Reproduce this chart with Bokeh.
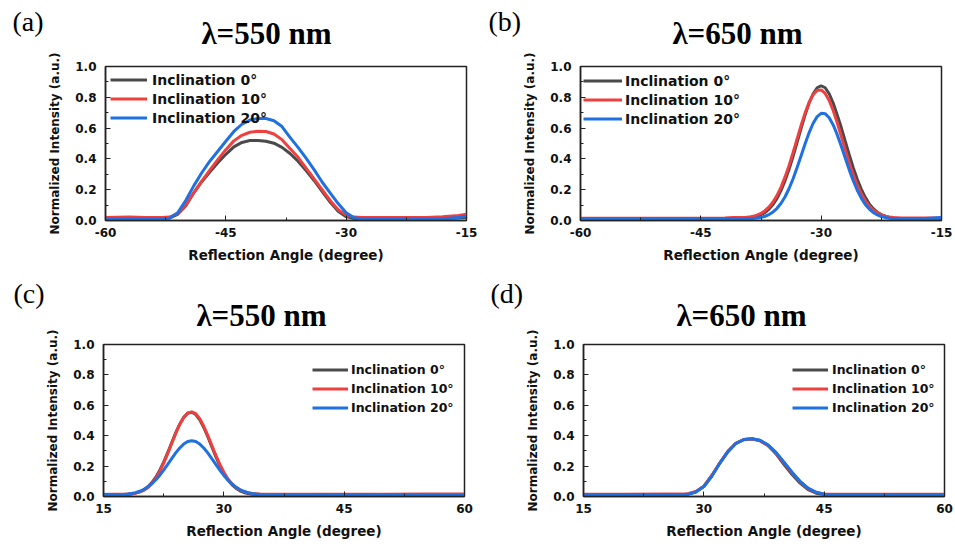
from bokeh.plotting import figure
from bokeh.layouts import column, row
from bokeh.models import (Range1d, FixedTicker, Label, Legend, LegendItem,
                          PrintfTickFormatter, CustomJSTickFormatter)
from bokeh.embed import file_html
from bokeh.resources import INLINE

# ---------------- data ----------------
series_labels = ["Inclination 0°", "Inclination 10°", "Inclination 20°"]

# (a) lambda = 550 nm, negative reflection angles
angle_a = [-60, -57, -55, -53, -52, -51, -50, -49, -48, -47, -46, -45, -44, -43, -42, -41,
           -40, -39, -38, -37, -36, -35, -34, -33, -32, -31, -30, -29, -28, -26, -23, -20,
           -18, -16, -15]
a_incl0 = [0.015, 0.015, 0.015, 0.015, 0.017, 0.04, 0.095, 0.18, 0.252, 0.315, 0.375, 0.43,
           0.478, 0.507, 0.519, 0.52, 0.515, 0.502, 0.475, 0.435, 0.385, 0.325, 0.26, 0.19,
           0.12, 0.06, 0.025, 0.013, 0.012, 0.012, 0.012, 0.012, 0.013, 0.016, 0.02]
a_incl10 = [0.02, 0.022, 0.02, 0.02, 0.022, 0.045, 0.1, 0.18, 0.256, 0.327, 0.395, 0.46,
            0.517, 0.553, 0.573, 0.58, 0.578, 0.562, 0.525, 0.468, 0.41, 0.34, 0.27, 0.2,
            0.13, 0.07, 0.035, 0.022, 0.02, 0.02, 0.02, 0.02, 0.024, 0.032, 0.04]
a_incl20 = [0.01, 0.01, 0.01, 0.01, 0.015, 0.05, 0.13, 0.225, 0.31, 0.385, 0.45, 0.515,
            0.578, 0.625, 0.652, 0.662, 0.662, 0.648, 0.61, 0.54, 0.475, 0.405, 0.33, 0.25,
            0.18, 0.11, 0.05, 0.018, 0.01, 0.01, 0.01, 0.01, 0.012, 0.02, 0.03]

# (b) lambda = 650 nm, negative reflection angles
angle_b = [-60, -50, -45, -42, -41,
           -40, -39.5, -39, -38.5, -38, -37.5, -37, -36.5, -36, -35.5, -35, -34.5, -34,
           -33.5, -33, -32.5, -32, -31.5, -31, -30.5, -30, -29.5, -29, -28.5, -28, -27.5,
           -27, -26.5, -26, -25.5, -25, -24.5, -24, -23.5, -23, -22.5, -22, -21.5, -21,
           -20.5, -20, -19, -17, -15]
b_incl0 = [0.01, 0.01, 0.01, 0.01, 0.011,
           0.012, 0.013, 0.016, 0.02, 0.027, 0.037, 0.052, 0.074, 0.104, 0.144, 0.196, 0.259,
           0.333, 0.417, 0.507, 0.599, 0.686, 0.763, 0.823, 0.862, 0.875, 0.862, 0.823, 0.763,
           0.686, 0.605, 0.515, 0.427, 0.343, 0.268, 0.204, 0.15, 0.108, 0.077, 0.054, 0.038,
           0.028, 0.02, 0.016, 0.013, 0.012, 0.01, 0.01, 0.012]
b_incl10 = [0.015, 0.015, 0.015, 0.017, 0.02,
            0.019, 0.02, 0.022, 0.027, 0.035, 0.046, 0.064, 0.088, 0.12, 0.163, 0.217, 0.283,
            0.358, 0.442, 0.53, 0.618, 0.699, 0.768, 0.818, 0.845, 0.848, 0.825, 0.779, 0.714,
            0.635, 0.548, 0.46, 0.374, 0.297, 0.229, 0.173, 0.128, 0.093, 0.068, 0.049, 0.037,
            0.028, 0.023, 0.02, 0.018, 0.016, 0.017, 0.016, 0.016]
b_incl20 = [0.011, 0.011, 0.011, 0.011, 0.011,
            0.0104, 0.011, 0.0117, 0.0133, 0.0159, 0.0204, 0.0276, 0.0388, 0.0555, 0.0793,
            0.1118, 0.1544, 0.2078, 0.2714, 0.3437, 0.421, 0.4987, 0.5709, 0.6314, 0.6746,
            0.696, 0.6937, 0.6676, 0.6205, 0.5572, 0.4834, 0.4053, 0.3287, 0.258, 0.1962,
            0.1451, 0.1045, 0.0738, 0.0516, 0.0362, 0.0259, 0.0194, 0.0153, 0.0129, 0.0115,
            0.0108, 0.011, 0.013, 0.02]

# (c) lambda = 550 nm, positive reflection angles
angle_c = [15, 16,
           17, 17.5, 18, 18.5, 19, 19.5, 20, 20.5, 21, 21.5, 22, 22.5, 23, 23.5, 24, 24.5,
           25, 25.5, 26, 26.5, 27, 27.5, 28, 28.5, 29, 29.5, 30, 30.5, 31, 31.5, 32, 32.5,
           33, 33.5, 34, 34.5, 35,
           37, 40, 45, 50, 55, 60]
c_incl0 = [0.01, 0.01,
           0.011, 0.012, 0.0137, 0.0168, 0.0221, 0.0306, 0.0436, 0.0629, 0.0898, 0.1258,
           0.1714, 0.2261, 0.2881, 0.3537, 0.4182, 0.476, 0.5208, 0.5481, 0.5546, 0.5395,
           0.5047, 0.4541, 0.393, 0.3273, 0.2627, 0.2033, 0.152, 0.1103, 0.078, 0.0543,
           0.0378, 0.0267, 0.0197, 0.0154, 0.0129, 0.0115, 0.0107,
           0.01, 0.01, 0.01, 0.01, 0.01, 0.01]
c_incl10 = [0.012, 0.014,
            0.015, 0.015, 0.016, 0.018, 0.022, 0.029, 0.04, 0.057, 0.083, 0.118, 0.163,
            0.219, 0.282, 0.349, 0.415, 0.474, 0.52, 0.549, 0.557, 0.545, 0.512, 0.462,
            0.402, 0.336, 0.272, 0.212, 0.16, 0.117, 0.085, 0.06, 0.043, 0.032, 0.025, 0.02,
            0.018, 0.016, 0.0155,
            0.015, 0.015, 0.014, 0.015, 0.016, 0.016]
c_incl20 = [0.015, 0.013,
            0.012, 0.0136, 0.0161, 0.0199, 0.0257, 0.0342, 0.046, 0.062, 0.0827, 0.1083,
            0.1388, 0.1737, 0.2112, 0.2498, 0.2867, 0.3193, 0.345, 0.3614, 0.367, 0.3614,
            0.345, 0.3193, 0.2867, 0.2498, 0.2112, 0.1737, 0.1388, 0.1083, 0.0827, 0.062,
            0.046, 0.0342, 0.0257, 0.0199, 0.0161, 0.0136, 0.012,
            0.01, 0.01, 0.012, 0.01, 0.01, 0.01]

# (d) lambda = 650 nm, positive reflection angles
angle_d = [15, 20, 25, 27, 28, 29, 30, 31, 32, 33, 34, 35, 36, 37, 38, 39, 40, 41, 42, 43,
           44, 45, 46, 50, 55, 60]
d_incl0 = [0.01, 0.01, 0.01, 0.011, 0.014, 0.03, 0.065, 0.135, 0.22, 0.295, 0.35, 0.375, 0.38,
           0.368, 0.335, 0.28, 0.21, 0.145, 0.088, 0.045, 0.022, 0.013, 0.01, 0.01, 0.01, 0.01]
d_incl10 = [0.015, 0.015, 0.016, 0.016, 0.018, 0.033, 0.068, 0.14, 0.222, 0.297, 0.35, 0.374,
            0.378, 0.366, 0.335, 0.285, 0.22, 0.155, 0.097, 0.052, 0.027, 0.017, 0.015, 0.015,
            0.015, 0.015]
d_incl20 = [0.012, 0.012, 0.012, 0.012, 0.014, 0.03, 0.065, 0.135, 0.22, 0.295, 0.35, 0.375,
            0.38, 0.37, 0.34, 0.29, 0.225, 0.16, 0.1, 0.055, 0.028, 0.015, 0.012, 0.012, 0.012,
            0.012]

x_ticks_neg = [-60, -45, -30, -15]
x_minor_neg = [-52.5, -37.5, -22.5]
x_ticks_pos = [15, 30, 45, 60]
x_minor_pos = [22.5, 37.5, 52.5]
y_ticks = [0.0, 0.2, 0.4, 0.6, 0.8, 1.0]
y_minor = [0.1, 0.3, 0.5, 0.7, 0.9]

titles = ["λ=550 nm", "λ=650 nm", "λ=550 nm", "λ=650 nm"]
panel_tags = ["(a)", "(b)", "(c)", "(d)"]

# ---------------- style ----------------
COLORS = ["#4a4a4a", "#ef3f3f", "#1f70e0"]
SANS = "DejaVu Sans"
SERIF = "Liberation Serif"


def make_panel(x, ys, xr, xt, xm, size, borders, leg_loc, leg_font, glyph_w, standoff,
               title, tag, title_off, tag_off):
    w, h = size
    bl, br, bt, bb = borders
    p = figure(width=w, height=h, x_range=Range1d(*xr), y_range=Range1d(0, 1.0),
               output_backend="svg", toolbar_location=None, tools="", title=None,
               min_border_left=bl, min_border_right=br, min_border_top=bt,
               min_border_bottom=bb)
    p.background_fill_color = "white"
    p.border_fill_color = "white"
    p.outline_line_color = "#222222"
    p.outline_line_width = 1.5
    p.xgrid.visible = False
    p.ygrid.visible = False

    renderers = [p.line(x, yv, line_color=c, line_width=3) for yv, c in zip(ys, COLORS)]

    p.xaxis.ticker = FixedTicker(ticks=xt, minor_ticks=xm)
    p.xaxis.formatter = CustomJSTickFormatter(code="return tick.toFixed(0);")
    p.yaxis.ticker = FixedTicker(ticks=y_ticks, minor_ticks=y_minor)
    p.yaxis.formatter = PrintfTickFormatter(format="%.1f")
    p.xaxis.axis_label = "Reflection Angle (degree)"
    p.yaxis.axis_label = "Normalized Intensity (a.u.)"
    for ax in (p.xaxis[0], p.yaxis[0]):
        ax.axis_line_color = "#222222"
        ax.axis_line_width = 1.5
        ax.major_tick_in = 5
        ax.major_tick_out = 0
        ax.minor_tick_in = 3
        ax.minor_tick_out = 0
        ax.major_tick_line_color = "#222222"
        ax.minor_tick_line_color = "#222222"
        ax.major_label_text_font = SANS
        ax.major_label_text_font_style = "bold"
        ax.major_label_text_font_size = "12px"
        ax.major_label_text_color = "#111111"
        ax.axis_label_text_font = SANS
        ax.axis_label_text_font_style = "bold"
        ax.axis_label_text_color = "#111111"
    p.yaxis.major_label_standoff = 9
    p.yaxis.axis_label_standoff = 10
    p.yaxis.axis_label_text_font_size = "12px"
    p.xaxis.major_label_standoff = 7
    p.xaxis.axis_label_standoff = 7
    p.xaxis.axis_label_text_font_size = "13.5px"

    legend = Legend(items=[LegendItem(label=lab, renderers=[r])
                           for lab, r in zip(series_labels, renderers)],
                    location=leg_loc)
    legend.label_text_font = SANS
    legend.label_text_font_style = "bold"
    legend.label_text_font_size = leg_font
    legend.label_text_color = "#111111"
    legend.glyph_width = glyph_w
    legend.glyph_height = 17
    legend.label_height = 17
    legend.spacing = 2
    legend.padding = 5
    legend.margin = 0
    legend.label_standoff = standoff
    legend.border_line_alpha = 0
    legend.background_fill_alpha = 0
    p.add_layout(legend)

    # panel title and tag live in the space above the frame
    p.add_layout(Label(x=title_off[0], y=title_off[1], x_units="screen", y_units="screen",
                       text=title, text_font=SERIF, text_font_style="bold",
                       text_font_size="31px", text_align="center",
                       text_baseline="alphabetic", text_color="black"), "above")
    p.add_layout(Label(x=tag_off[0], y=tag_off[1], x_units="screen", y_units="screen",
                       text=tag, text_font=SERIF, text_font_size="28px", text_align="left",
                       text_baseline="alphabetic", text_color="black"), "above")
    return p


pa = make_panel(angle_a, [a_incl0, a_incl10, a_incl20], (-60, -15), x_ticks_neg, x_minor_neg,
                (477, 274), (105, 11, 66, 54), (0, 89), "14px", 37, 5,
                titles[0], panel_tags[0], (161, 33), (-93, 10))
pb = make_panel(angle_b, [b_incl0, b_incl10, b_incl20], (-60, -15), x_ticks_neg, x_minor_neg,
                (478, 274), (103, 14, 66, 54), (-2, 88), "14px", 39, 3,
                titles[1], panel_tags[1], (157, 33), (-92, 10))
pc = make_panel(angle_c, [c_incl0, c_incl10, c_incl20], (15, 60), x_ticks_pos, x_minor_pos,
                (477, 274), (103, 13, 70, 52), (204, 75), "12.5px", 36, 3,
                titles[2], panel_tags[2], (158, 29), (-90, 16))
pd = make_panel(angle_d, [d_incl0, d_incl10, d_incl20], (15, 60), x_ticks_pos, x_minor_pos,
                (478, 274), (106, 11, 70, 52), (204, 75), "12.5px", 36, 4,
                titles[3], panel_tags[3], (158, 29), (-93, 16))

layout = column(row(pa, pb), row(pc, pd))
open("out.html", "w").write(file_html(layout, INLINE))
